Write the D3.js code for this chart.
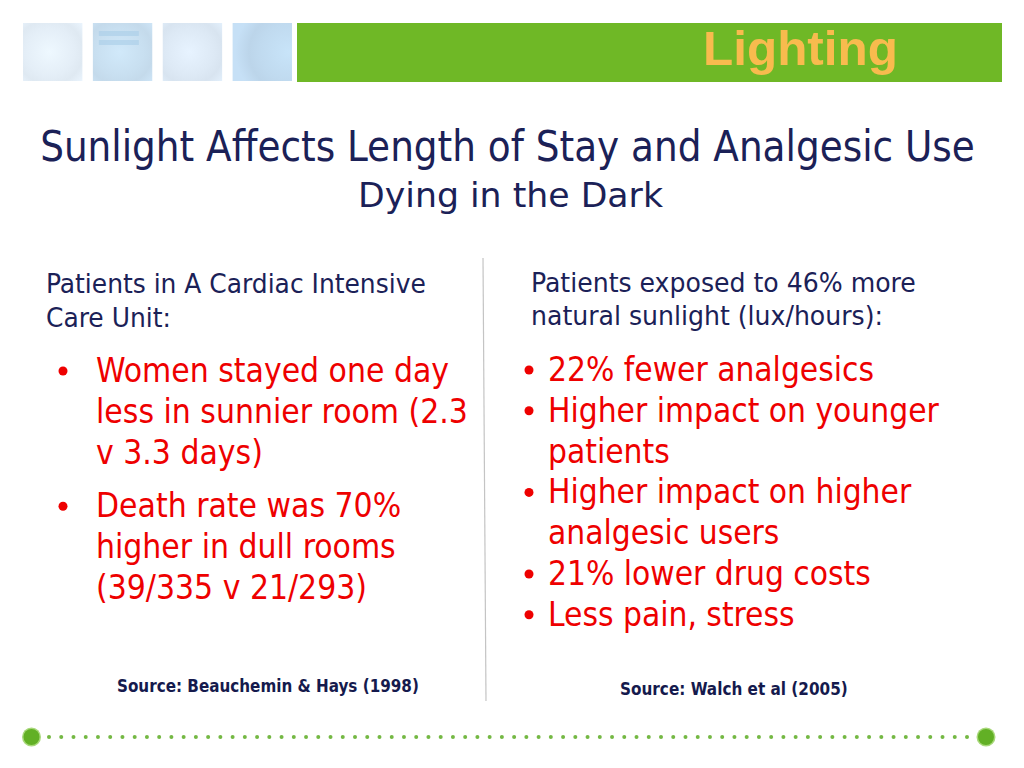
<!DOCTYPE html>
<html><head><meta charset="utf-8">
<script src="https://cdn.jsdelivr.net/npm/d3@7"></script>
<style>html,body{margin:0;padding:0;background:#fff;overflow:hidden}</style>
</head><body>
<script>
// ---- content ----
const headerLabel = "Lighting";
const titleLines = ["Sunlight Affects Length of Stay and Analgesic Use"];
const subtitleLines = ["Dying in the Dark"];
const leftHeading = ["Patients in A Cardiac Intensive", "Care Unit:"];
const rightHeading = ["Patients exposed to 46% more", "natural sunlight (lux/hours):"];
const leftBullets = [
  ["Women stayed one day", "less in sunnier room (2.3", "v 3.3 days)"],
  ["Death rate was 70%", "higher in dull rooms", "(39/335 v 21/293)"]
];
const rightBullets = [
  ["22% fewer analgesics"],
  ["Higher impact on younger", "patients"],
  ["Higher impact on higher", "analgesic users"],
  ["21% lower drug costs"],
  ["Less pain, stress"]
];
const sources = ["Source: Beauchemin & Hays (1998)", "Source: Walch et al (2005)"];
const tileTints = ["#e4eef7", "#c8dff0", "#dde9f5", "#c0daef"];

// ---- drawing ----
const W = 1024, H = 768;
const NAVY = "#1b2157", RED = "#ee0000", GREEN = "#6fb826";
const FONT = "'DejaVu Sans Condensed','DejaVu Sans',sans-serif";
const svg = d3.select("body").append("svg").attr("width", W).attr("height", H);
const defs = svg.append("defs");

// header tiles
const tileX = d3.scaleBand().domain(d3.range(tileTints.length)).range([23, 292]).paddingInner(0.15);
tileTints.forEach((c, i) => {
  const g = defs.append("radialGradient").attr("id", "tg" + i)
    .attr("cx", i === 3 ? "95%" : "45%").attr("cy", "50%").attr("r", i === 3 ? "90%" : "75%");
  g.append("stop").attr("offset", "0%").attr("stop-color", d3.color(c).brighter(0.12));
  g.append("stop").attr("offset", "55%").attr("stop-color", c);
  g.append("stop").attr("offset", "75%").attr("stop-color", d3.color(c).darker(0.06));
  g.append("stop").attr("offset", "100%").attr("stop-color", d3.color(c).brighter(0.08));
});
svg.selectAll("rect.tile").data(tileTints).join("rect").attr("class", "tile")
  .attr("x", (d, i) => tileX(i)).attr("y", 23).attr("width", tileX.bandwidth()).attr("height", 58)
  .attr("fill", (d, i) => `url(#tg${i})`);
// faint horizontal bands on second tile
svg.selectAll("rect.band").data([0, 1]).join("rect").attr("class", "band")
  .attr("x", tileX(1) + 6).attr("y", d => 31 + d * 9).attr("width", 40).attr("height", 5)
  .attr("fill", "#a9cde8").attr("opacity", 0.6);
svg.append("rect").attr("x", 297).attr("y", 23).attr("width", 705).attr("height", 59).attr("fill", GREEN);
svg.append("text").attr("x", 703).attr("y", 65).text(headerLabel)
  .attr("font-family", "'Liberation Sans',Arial,sans-serif").attr("font-weight", "bold")
  .attr("font-size", 48).attr("fill", "#f8bb4e")
  .attr("textLength", 195).attr("lengthAdjust", "spacingAndGlyphs");

// helper: draw text block with horizontal fit
function block(lines, opts) {
  const g = svg.append("g");
  const y = d3.scaleLinear().domain([0, 1]).range([opts.y0, opts.y0 + (opts.step || 0)]);
  const t = g.selectAll("text").data(lines).join("text")
    .attr("x", 0).attr("y", (d, i) => y(i + (opts.extra ? opts.extra[i] : 0)))
    .attr("font-family", FONT).attr("font-size", opts.size)
    .attr("font-weight", opts.bold ? "bold" : "normal")
    .attr("fill", opts.color).attr("text-anchor", opts.anchor || "start")
    .text(d => d);
  const w = t.nodes()[opts.ref || 0].getComputedTextLength();
  const sx = opts.width / w;
  g.attr("transform", `translate(${opts.x},0) scale(${sx},1)`);
  return g;
}

block(titleLines, {x: 507.5, y0: 161, size: 42, color: NAVY, anchor: "middle", width: 935});
block(subtitleLines, {x: 510.5, y0: 207, size: 34, color: NAVY, anchor: "middle", width: 305});
block(leftHeading, {x: 46, y0: 293, step: 34, size: 26, color: NAVY, width: 380});
block(rightHeading, {x: 531, y0: 292, step: 33, size: 26, color: NAVY, width: 385});

function bullets(list, opts) {
  const flat = [], firsts = [];
  list.forEach((b, bi) => b.forEach((l, li) => {
    flat.push(l);
    if (li === 0) firsts.push(flat.length - 1);
  }));
  const extra = [];
  let acc = 0;
  list.forEach((b, bi) => b.forEach((l, li) => { if (li === 0 && bi > 0) acc += opts.gap; extra.push(acc); }));
  block(flat, {x: opts.x, y0: opts.y0, step: opts.step, extra, size: opts.size, color: RED, width: opts.width, ref: flat.indexOf(opts.refText)});
  const y = d3.scaleLinear().domain([0, 1]).range([opts.y0, opts.y0 + opts.step]);
  svg.selectAll(null).data(firsts).join("circle")
    .attr("cx", opts.dotX).attr("cy", i => y(i + extra[i]) - 11).attr("r", 4.5).attr("fill", RED);
}
bullets(leftBullets, {x: 96, y0: 382, step: 41, gap: 0.3, size: 34.5, width: 372, refText: "less in sunnier room (2.3", dotX: 63});
bullets(rightBullets, {x: 548, y0: 381, step: 40.8, gap: 0, size: 34.5, width: 391, refText: "Higher impact on younger", dotX: 529});

// divider
svg.append("line").attr("x1", 483).attr("y1", 258).attr("x2", 486).attr("y2", 701)
  .attr("stroke", "#c4c4c4").attr("stroke-width", 1.2);

// sources
block([sources[0]], {x: 117, y0: 692, size: 17.5, bold: true, color: "#151a4d", width: 302});
block([sources[1]], {x: 620, y0: 695, size: 17.5, bold: true, color: "#151a4d", width: 228});

// dotted footer
const dotX = d3.scaleLinear().domain([0, 75]).range([49, 967]);
svg.selectAll("circle.dot").data(d3.range(76)).join("circle").attr("class", "dot")
  .attr("cx", d => dotX(d)).attr("cy", 737).attr("r", 2).attr("fill", "#74b843");
[31.5, 986].forEach(cx => {
  svg.append("circle").attr("cx", cx).attr("cy", 737).attr("r", 9.5).attr("fill", "#a8d87a");
  svg.append("circle").attr("cx", cx).attr("cy", 737).attr("r", 8).attr("fill", "#62b025");
});
</script>
</body></html>
